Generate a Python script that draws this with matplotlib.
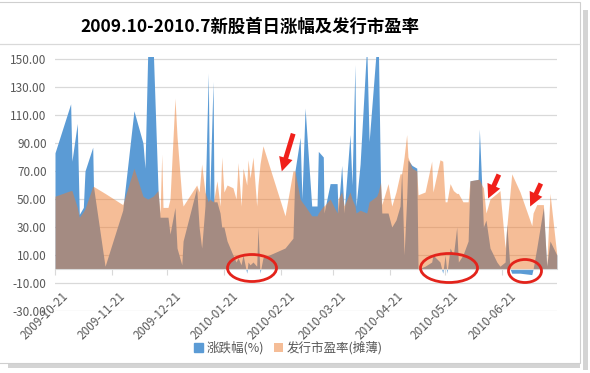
import numpy as np
import pandas as pd
import matplotlib
matplotlib.use('Agg')
import matplotlib.pyplot as plt
import matplotlib.dates as mdates
import matplotlib.transforms as mtransforms
from matplotlib.patches import Patch, Ellipse, Rectangle, FancyArrowPatch
from matplotlib.lines import Line2D

plt.rcParams['font.family'] = ['Noto Sans CJK SC', 'DejaVu Sans']

# days after 2009-10-21 (listing dates)
days = [0, 8.5, 9.2, 12.1, 13.2, 15.4, 16.3, 20.5, 20.9, 27.2, 36.8, 42.9, 47.8, 48.9,
        50.5, 53.3, 56.0, 57.1, 58.0, 58.7, 61.4, 62.5, 65.2, 66.3, 68.9, 69.6, 77.0,
        78.3, 79.7, 81.5, 83.3, 84.0, 85.9, 86.4, 88.0, 89.7, 90.6, 91.8, 93.5, 96.7,
        98.4, 99.5, 101.1, 102.2, 104.2, 104.9, 106.0, 107.6, 109.6, 110.3, 111.4,
        113.0, 125.0, 129.3, 130.4, 133.2, 134.2, 135.9, 139.5, 142.4, 143.1, 145.8,
        146.2, 149.5, 153.3, 153.8, 155.8, 157.1, 160.3, 161.4, 163.0, 163.6, 165.8,
        169.4, 170.7, 174.8, 175.7, 176.9, 177.6, 181.0, 183.0, 185.3, 187.5, 188.4,
        189.7, 191.1, 191.8, 194.0, 196.6, 197.3, 201.1, 204.7, 205.4, 209.2, 210.7,
        212.0, 213.0, 214.7, 216.5, 218.3, 219.2, 221.7, 224.5, 225.5, 229.9, 230.6,
        231.9, 232.8, 234.2, 236.4, 240.1, 241.8, 244.6, 245.5, 247.3, 248.2, 252.7,
        259.1, 259.8, 261.8, 265.4, 267.2, 269.0, 272.7]

# 涨跌幅(%)
gain = [83, 118, 77, 104, 39, 44, 70, 87, 59, 2, 42, 113, 90, 72,
        160, 160, 56, 37, 37, 37, 37, 25, 44, 15, 3, 20, 58,
        30, 15, 45, 140, 48, 134, 48, 48, 40, 30, 30, 20, 10,
        5, 8, 3, 10, -3, 5, 3, 5, 2, 30, -3,
        8, 15, 22, 70, 94, 50, 115, 45, 45, 84, 80,
        40, 61, 61, 40, 74, 40, 96, 60, 146, 45, 75,
        160, 91, 160, 160, 61, 40, 40, 30, 35, 45, 70,
        10, 50, 78, 74, 72, 0, 2, 5, 10, 5, -3,
        10, -3, 15, 10, 30, 5, 10, 20, 63, 64, 100,
        60, 30, 35, 15, 5, 2, 5, 32, 0, -3, -3,
        -4, 0, 15, 44, 2, 20, 10]

# 发行市盈率(摊薄)
pe = [52, 56, 56, 44, 37, 41, 43, 59, 59, 54, 46, 72, 52, 51,
      50, 52, 56, 40, 82, 44, 44, 50, 122, 95, 51, 45, 60,
      55, 75, 55, 48, 50, 48, 50, 63, 45, 80, 55, 60, 58,
      50, 76, 45, 72, 60, 78, 65, 80, 45, 60, 75,
      88, 38, 70, 70, 50, 48, 45, 38, 38, 40, 45,
      45, 50, 40, 50, 55, 45, 55, 50, 45, 40, 42,
      40, 48, 52, 55, 62, 46, 61, 45, 55, 68, 68,
      80, 96, 80, 72, 70, 53, 55, 77, 55, 78, 77,
      48, 48, 61, 56, 54, 54, 48, 48, 63, 64, 64,
      60, 58, 40, 50, 54, 56, 15, 30, 55, 68, 55,
      31, 40, 46, 46, 2, 54, 10]

start = pd.Timestamp('2009-10-21')
dates = start + pd.to_timedelta(days, unit='D')

W, H = 590, 373
fig = plt.figure(figsize=(W / 100, H / 100), dpi=100)

def fx(px):
    return px / W

def fy(py):
    return 1 - py / H

ax = fig.add_axes([fx(55), fy(311), (557 - 55) / W, (311 - 56.9) / H])

blue = '#5B9BD5'
orange = '#ED7D31'
ax.fill_between(dates, 0, gain, color=blue, lw=0, zorder=2)
ax.fill_between(dates, 0, pe, color=orange, alpha=0.5, lw=0, zorder=3)

ax.set_ylim(-30, 151.5)
ax.set_yticks(np.arange(-30, 151, 20))
ax.yaxis.set_major_formatter(matplotlib.ticker.FormatStrFormatter('%.2f'))
ax.set_xlim(start, start + pd.Timedelta(days=272.8))
ax.xaxis.set_major_locator(mdates.MonthLocator(bymonthday=21))
ax.xaxis.set_major_formatter(mdates.DateFormatter('%Y-%m-%d'))

ax.grid(axis='y', color='#d9d9d9', lw=0.9, zorder=1)
for s in ['top', 'right', 'left']:
    ax.spines[s].set_visible(False)
ax.spines['bottom'].set_position(('data', 0))
ax.spines['bottom'].set_color('#d9d9d9')
ax.spines['bottom'].set_zorder(4)
ax.tick_params(axis='y', length=0, pad=6, labelsize=8.5, labelcolor='#595959')
ax.tick_params(axis='x', length=4, color='#d9d9d9', pad=11, labelsize=8.5,
               labelcolor='#595959')
off = mtransforms.ScaledTranslation(7 / 100, 0, fig.dpi_scale_trans)
for lab in ax.get_xticklabels():
    lab.set_rotation(45)
    lab.set_ha('right')
    lab.set_va('top')
    lab.set_rotation_mode('anchor')
    lab.set_transform(lab.get_transform() + off)

fig.text(fx(250), fy(27), '2009.10-2010.7新股首日涨幅及发行市盈率', ha='center',
         va='center', fontsize=12.5, fontweight='bold', color='black')

handles = [Patch(color=blue), Patch(color=orange, alpha=0.5, lw=0)]
fig.legend(handles, ['涨跌幅(%)', '发行市盈率(摊薄)'], loc='center',
           bbox_to_anchor=(fx(288), fy(348)), ncol=2, frameon=False, fontsize=9,
           handlelength=0.7, handleheight=0.7, handletextpad=0.3,
           columnspacing=0.8, labelcolor='#595959')

# chart frame and shadow
fig.add_artist(Rectangle((fx(583), fy(370)), fx(5), fy(10) - fy(370),
                         transform=fig.transFigure, color='#d4d4d4', lw=0))
fig.add_artist(Rectangle((fx(8), fy(368)), fx(580) - fx(8), fy(363) - fy(368),
                         transform=fig.transFigure, color='#d4d4d4', lw=0))
fig.add_artist(Rectangle((fx(-2), fy(363)), fx(582), fy(2) - fy(363),
                         transform=fig.transFigure, facecolor='none',
                         edgecolor='#cfcfcf', lw=0.8))
fig.add_artist(Line2D([fx(0), fx(580)], [fy(44), fy(44)],
                      transform=fig.transFigure, color='#d9d9d9', lw=0.9))

# red marks
for cx, cy, w, h in [(252, 268, 49, 27), (449, 268, 57, 29), (525, 271, 33, 23)]:
    fig.add_artist(Ellipse((fx(cx), fy(cy)), w / W, h / H, transform=fig.transFigure,
                           facecolor='none', edgecolor='#e3231b', lw=2))
for x0, y0, x1, y1 in [(294, 131, 281, 174), (500, 172, 487, 201), (542, 181, 529, 209)]:
    fig.add_artist(FancyArrowPatch((fx(x0), fy(y0)), (fx(x1), fy(y1)),
                                   transform=fig.transFigure,
                                   arrowstyle='simple,head_width=10,head_length=10,tail_width=3.5',
                                   color='#f0201a', lw=0))

fig.savefig('out.png', dpi=100)
